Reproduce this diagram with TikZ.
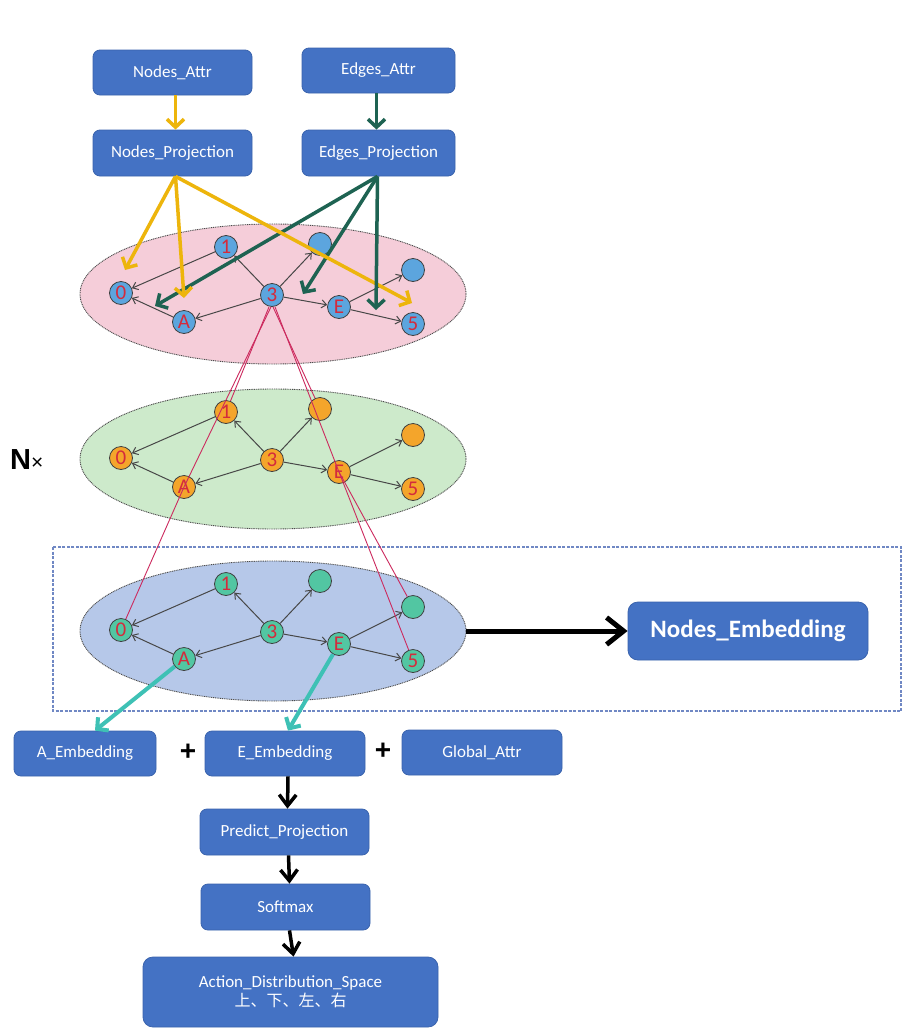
\documentclass[tikz,border=0pt]{standalone}
\usepackage{fontspec}
\setmainfont{Carlito}
\newfontfamily\cjk{Noto Sans CJK SC}
\newfontfamily\arialf{Liberation Sans}
\usetikzlibrary{arrows.meta,calc,shapes.geometric}
\definecolor{boxblue}{HTML}{4472C4}
\definecolor{boxedge}{HTML}{3A63AD}
\definecolor{ylw}{HTML}{EDB50C}
\definecolor{dkgreen}{HTML}{1E6352}
\definecolor{cyanar}{HTML}{3EC1B5}
\definecolor{pinkfill}{HTML}{F5CDD9}
\definecolor{greenfill}{HTML}{CDEACB}
\definecolor{bluefill}{HTML}{B6C8E9}
\definecolor{nblue}{HTML}{5CA5DE}
\definecolor{norange}{HTML}{F4A52B}
\definecolor{nteal}{HTML}{52C6A2}
\definecolor{lbl}{HTML}{D42B3C}
\definecolor{redline}{HTML}{CC2A5E}
\definecolor{dashc}{HTML}{7088C4}
\newcommand{\glayer}[4]{%
\begin{scope}[shift={(0,#2)}]
 \node[layerell, fill=#3] (#1-ell) at (273,-1) {};
 \node[gnode,fill=#4] (#1-3) at (272,0) {3};
 \node[gnode,fill=#4] (#1-1) at (226,-48) {1};
 \node[gnode,fill=#4] (#1-r) at (320,-51) {};
 \node[gnode,fill=#4] (#1-0) at (121,-2) {0};
 \node[gnode,fill=#4] (#1-A) at (184,27) {A};
 \node[gnode,fill=#4] (#1-E) at (339,12) {E};
 \node[gnode,fill=#4] (#1-s) at (413,-25) {};
 \node[gnode,fill=#4] (#1-5) at (413,29) {5};
 \draw[gedge] (#1-1) -- (#1-0);
 \draw[gedge] (#1-A) -- (#1-0);
 \draw[gedge] (#1-3) -- (#1-A);
 \draw[gedge] (#1-3) -- (#1-1);
 \draw[gedge] (#1-3) -- (#1-r);
 \draw[gedge] (#1-3) -- (#1-E);
 \draw[gedge] (#1-E) -- (#1-s);
 \draw[gedge] (#1-E) -- (#1-5);
\end{scope}}
\begin{document}
\begin{tikzpicture}[x=1pt,y=-1pt,
 box/.style={draw=boxedge, line width=0.8pt, fill=boxblue, rounded corners=7pt, text=white,
   font=\fontsize{17}{20}\selectfont, inner sep=0pt, align=center},
 gnode/.style={circle, draw=black!75, line width=0.8pt, minimum size=23pt, inner sep=0pt,
   text=lbl, font=\fontsize{21}{21}\selectfont},
 gedge/.style={draw=black!72, line width=1pt, -{Straight Barb[length=5pt,width=8pt]}},
 layerell/.style={ellipse, draw=black!70, line width=0.9pt, dash pattern=on 1pt off 0.8pt,
   minimum width=386pt, minimum height=140pt, inner sep=0pt},
 yarr/.style={draw=ylw, line width=3.5pt, -{Straight Barb[length=8pt,width=17pt]}},
 garr/.style={draw=dkgreen, line width=3.5pt, -{Straight Barb[length=8pt,width=17pt]}},
 carr/.style={draw=cyanar, line width=4pt, -{Straight Barb[length=8pt,width=17pt]}},
 karr/.style={draw=black, line width=3.5pt, -{Straight Barb[length=11pt,width=17pt]}},
 redl/.style={draw=redline, line width=0.9pt},
]
\useasboundingbox (0,0) rectangle (903,1028);
\fill[white] (0,0) rectangle (903,1028);

% top boxes
\node[box, minimum width=159pt, minimum height=45pt] (na) at (172.5,72.5) {Nodes\_Attr};
\node[box, minimum width=153pt, minimum height=45pt] (ea) at (378.5,70.5) {Edges\_Attr};
\node[box, minimum width=159pt, minimum height=46pt] (np) at (172.5,153) {Nodes\_Projection};
\node[box, minimum width=153pt, minimum height=46pt] (ep) at (378.5,153) {Edges\_Projection};

\draw[yarr] ([xshift=3pt]na.south) -- ([xshift=3pt]np.north);
\draw[garr] ([xshift=-2pt]ea.south) -- ([xshift=-2pt]ep.north);

% dashed frame
\draw[dashc, line width=2pt, dash pattern=on 3pt off 1.5pt] (53,547) rectangle (901,711);

% graph layers
\glayer{t}{295}{pinkfill}{nblue}
\glayer{m}{460}{greenfill}{norange}
\glayer{b}{632}{bluefill}{nteal}

% red correspondence lines
\draw[redl] ([xshift=-3pt]t-3.south) -- (m-1);
\draw[redl] ([xshift=-1pt]t-3.south) -- (m-A.center) -- (b-0);
\draw[redl] ([xshift=1pt]t-3.south) -- (m-r);
\draw[redl] ([xshift=3pt]t-3.south) -- (m-E.center) -- (b-5);
\draw[redl] (m-E.center) -- (b-s);

% projection arrows
\coordinate (y0) at (125,270);
\coordinate (yA) at (184,298);
\coordinate (y5) at (412,303);
\coordinate (g0) at (155,306);
\coordinate (g3) at (303,294);
\coordinate (g5) at (376,310);
\draw[garr] ([xshift=-1pt]ep.south) -- (g0);
\draw[garr] ([xshift=-1pt]ep.south) -- (g3);
\draw[yarr] ([xshift=3pt]np.south) -- (y0);
\draw[yarr] ([xshift=3pt]np.south) -- (yA);
\draw[yarr] ([xshift=3pt]np.south) -- (y5);
\draw[garr] ([xshift=-1pt]ep.south) -- (g5);

% N x
\node[anchor=west, inner sep=0pt] (nx) at (10,460) {\arialf\bfseries\fontsize{29}{29}\selectfont N\fontsize{21}{21}\selectfont\mdseries ×};

% nodes embedding
\node[box, minimum width=240pt, minimum height=58pt, rounded corners=10pt,
  font=\fontsize{25}{28}\selectfont\bfseries] (ne) at (748,631) {Nodes\_Embedding};
\draw[draw=black, line width=5pt, -{Straight Barb[length=17pt,width=27pt]}] (b-ell.east) -- (ne.west);

% bottom boxes
\node[box, minimum width=142pt, minimum height=45pt] (ae) at (85,753.5) {A\_Embedding};
\node[box, minimum width=160pt, minimum height=45pt] (ee) at (285,753.5) {E\_Embedding};
\node[box, minimum width=160pt, minimum height=45pt] (ga) at (482,752.5) {Global\_Attr};
\node[inner sep=0pt] (p1) at (188,752) {\arialf\bfseries\fontsize{28}{28}\selectfont +};
\node[inner sep=0pt] (p2) at (383,751) {\arialf\bfseries\fontsize{28}{28}\selectfont +};
\node[box, minimum width=169pt, minimum height=46pt] (pp) at (284.5,832) {Predict\_Projection};
\node[box, minimum width=169pt, minimum height=46pt] (sm) at (285.5,907) {Softmax};
\node[box, minimum width=295pt, minimum height=70pt, rounded corners=10pt] (ad) at (290.5,992)
  {Action\_Distribution\_Space\\[-1pt]{\cjk\fontsize{16}{18}\selectfont 上、下、左、右}};

\draw[carr] (b-A) -- ([xshift=10pt]ae.north);
\draw[carr] (b-E) -- ([xshift=3pt]ee.north);
\draw[karr] ([xshift=3pt]ee.south) -- ([xshift=3pt]pp.north);
\draw[karr] ([xshift=4pt]pp.south) -- ([xshift=4pt]sm.north);
\draw[karr] ([xshift=4pt]sm.south) -- ([xshift=3pt]ad.north);
\end{tikzpicture}
\end{document}
